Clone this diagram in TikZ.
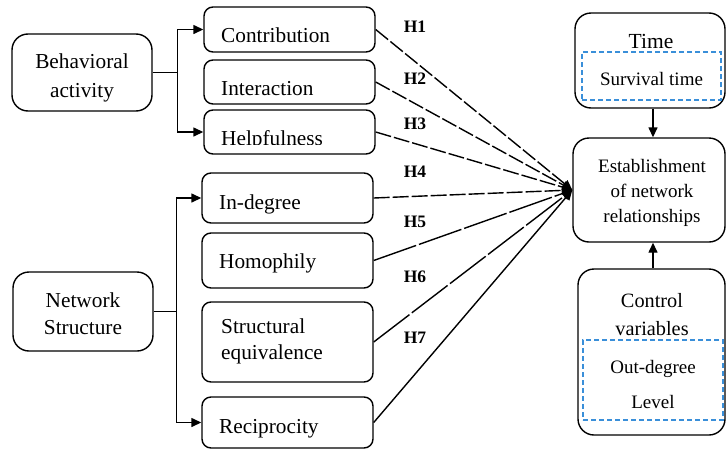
\documentclass[tikz,border=0pt]{standalone}
\usepackage{fontspec}
\setmainfont{Liberation Serif}
\usetikzlibrary{arrows.meta}
\definecolor{dashblue}{HTML}{3A8FD9}
\begin{document}
\begin{tikzpicture}[x=1pt,y=-1pt,
  every node/.style={font=\fontsize{19}{27}\selectfont},
  big/.style={font=\fontsize{21.3}{27}\selectfont},
  mid/.style={font=\fontsize{20.3}{27}\selectfont},
  box/.style={draw, line width=1.4pt, rounded corners=9pt, inner sep=0pt},
  bigbox/.style={box, rounded corners=16pt},
  innerbox/.style={draw=dashblue, line width=1.4pt, dash pattern=on 5pt off 3pt, inner sep=0pt},
  lbl/.style={anchor=base west, inner sep=0pt, big},
  ctr/.style={anchor=base, inner sep=0pt},
  hyp/.style={font=\fontsize{17.5}{18}\selectfont\bfseries, anchor=center, inner sep=0pt},
  tip/.style={-{Triangle[length=10pt,width=9pt]}, line width=1.4pt},
  link/.style={tip},
  dashlink/.style={tip, dash pattern=on 16pt off 3pt},
  gaplink/.style={tip, dash pattern=on 45pt off 3pt}
]
\useasboundingbox (0,0) rectangle (727,450);

% left-hand groups
\node[bigbox, minimum width=140pt, minimum height=77pt] (beh) at (82,72.5) {};
\node[ctr, big] (behA) at (82,68) {Behavioral};
\node[ctr, big] (behB) at (82,97) {activity};

\node[bigbox, minimum width=140pt, minimum height=79pt] (net) at (83,311.5) {};
\node[ctr, big] (netA) at (83,307) {Network};
\node[ctr, big] (netB) at (83,334) {Structure};

% behavioural variables
\node[box, minimum width=171pt, minimum height=45pt] (contrib) at (289.5,29.5) {};
\node[lbl] (contribT) at (221,42) {Contribution};
\node[box, minimum width=171pt, minimum height=44pt] (inter) at (289.5,82) {};
\node[lbl] (interT) at (221,95) {Interaction};
\node[box, minimum width=171pt, minimum height=44pt] (help) at (289.5,132) {};
\begin{scope}
  \clip (205,111) rectangle (374,144.5);
  \node[lbl] (helpT) at (221,145) {Helpfulness};
\end{scope}

% structural variables
\node[box, minimum width=171pt, minimum height=50pt] (indeg) at (287.5,198) {};
\node[lbl] (indegT) at (219,209) {In-degree};
\node[box, minimum width=171pt, minimum height=55pt] (homo) at (287.5,260.5) {};
\node[lbl] (homoT) at (219,268) {Homophily};
\node[box, minimum width=171pt, minimum height=80pt] (struct) at (287.5,342) {};
\node[lbl] (structA) at (221,333) {Structural};
\node[lbl] (structB) at (221,359) {equivalence};
\node[box, minimum width=171pt, minimum height=51pt] (recip) at (287.5,422.5) {};
\node[lbl] (recipT) at (219,433) {Reciprocity};

% right-hand column
\node[bigbox, minimum width=150pt, minimum height=95pt] (time) at (650,60.5) {};
\node[ctr, font=\fontsize{21.5}{27}\selectfont] (timeT) at (651,48) {Time};
\node[innerbox, minimum width=139pt, minimum height=48pt] (surv) at (651.5,76) {};
\node[ctr] (survT) at (651.5,85) {Survival time};

\node[bigbox, minimum width=152pt, minimum height=104pt] (estab) at (649,190) {};
\node[ctr] (estabA) at (652,172) {Establishment};
\node[ctr] (estabB) at (652,197) {of network};
\node[ctr] (estabC) at (652,222) {relationships};

\node[bigbox, minimum width=147pt, minimum height=166pt] (ctrl) at (651.5,352) {};
\node[ctr, mid] (ctrlA) at (652,307) {Control};
\node[ctr, mid] (ctrlB) at (652,335) {variables};
\node[innerbox, minimum width=140pt, minimum height=80pt] (ctrlin) at (653,380) {};
\node[ctr] (ctrlC) at (653,373) {Out-degree};
\node[ctr] (ctrlD) at (653,408) {Level};

% branching arrows
\draw[line width=1.4pt] (beh.east) -- ++(25,0) coordinate (bj);
\draw[tip] (bj) |- (contrib.west);
\draw[tip] (bj) |- (help.west);
\draw[line width=1.4pt] (net.east) -- ++(23,0) coordinate (nj);
\draw[tip] (nj) |- (indeg.west);
\draw[tip] (nj) |- (recip.west);

% hypothesised paths
\draw[dashlink] (contrib.east) -- (estab.west);
\draw[dashlink] (inter.east) -- (estab.west);
\draw[dashlink] (help.east) -- (estab.west);
\draw[dashlink] (indeg.east) -- (estab.west);
\draw[gaplink] (homo.east) -- (estab.west);
\draw[gaplink] (struct.east) -- (estab.west);
\draw[link] (recip.east) -- (estab.west);

\node[hyp] (h1) at (415,27) {H1};
\node[hyp] (h2) at (415,79) {H2};
\node[hyp] (h3) at (415,124) {H3};
\node[hyp] (h4) at (415,172) {H4};
\node[hyp] (h5) at (415,222) {H5};
\node[hyp] (h6) at (415,277) {H6};
\node[hyp] (h7) at (415,338) {H7};

% time and controls
\draw[tip] (time.south -| 653,0) -- (estab.north -| 653,0);
\draw[tip] (ctrl.north -| 653,0) -- (estab.south -| 653,0);
\end{tikzpicture}
\end{document}
